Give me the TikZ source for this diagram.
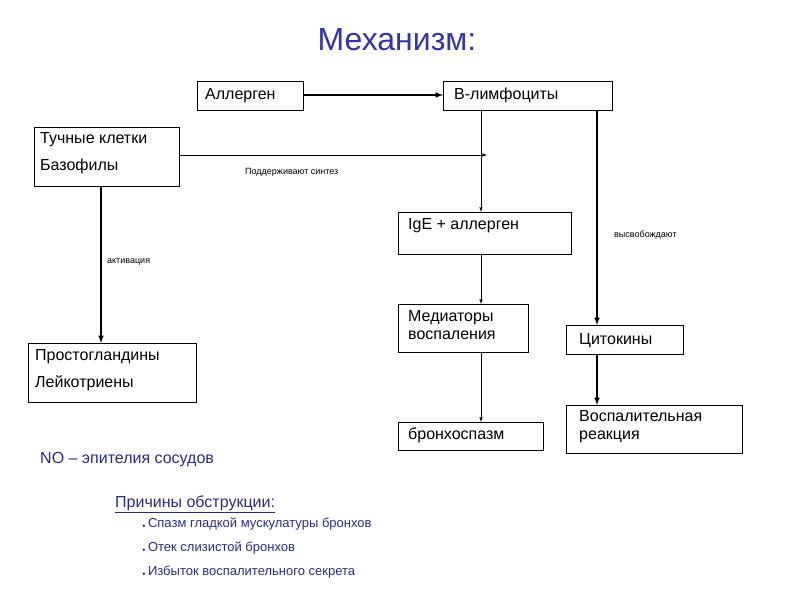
\documentclass[tikz,border=0pt]{standalone}
\usepackage{fontspec}
\setmainfont{Liberation Sans}
\usepackage{xcolor}
\definecolor{tblue}{HTML}{3333B0}
\definecolor{nblue}{HTML}{2A2A8A}
\begin{document}
\begin{tikzpicture}[x=1pt,y=-1pt,
  bx/.style={draw,line width=0.8pt,inner sep=0pt},
  txt/.style={anchor=north west,inner sep=0pt,font=\fontsize{16}{18}\selectfont,align=left},
  thin/.style={line width=0.6pt,-latex},
  thick/.style={line width=1.5pt,-latex},
  small/.style={inner sep=0pt,font=\fontsize{9}{11}\selectfont},
  bul/.style={anchor=west,inner sep=0pt,text=nblue,font=\fontsize{13}{15}\selectfont}]
\useasboundingbox (0,0) rectangle (794,595);
\node[font=\fontsize{32}{36}\selectfont,text=tblue] (title) at (397,40) {Механизм:};
% boxes
\draw[bx] (197,81) rectangle (303,110); \node[txt] (at) at (205,88) {Аллерген};
\draw[bx] (443,81) rectangle (612,110); \node[txt] (bt) at (454,88) {B-лимфоциты};
\draw[bx] (34,127) rectangle (179,186); \node[txt] (tt) at (40,132) {Тучные клетки\\[9pt]Базофилы};
\draw[bx] (398,212) rectangle (571,254); \node[txt] (it) at (408,218) {IgE + аллерген};
\draw[bx] (398,304) rectangle (528,352); \node[txt] (mt) at (408,310) {Медиаторы\\воспаления};
\draw[bx] (28,343) rectangle (196,402); \node[txt] (pt) at (35,349) {Простогландины\\[9pt]Лейкотриены};
\draw[bx] (566,325) rectangle (683,354); \node[txt] (ct) at (579,333) {Цитокины};
\draw[bx] (398,422) rectangle (543,450); \node[txt] (bst) at (408,428) {бронхоспазм};
\draw[bx] (566,405) rectangle (742,453); \node[txt] (vt) at (579,410) {Воспалительная\\реакция};
% connector anchors
\coordinate (a1) at (303,95); \coordinate (b1) at (443,95);
\coordinate (t1) at (179,155); \coordinate (t2) at (487,155);
\coordinate (bd) at (481,110); \coordinate (ig) at (481,212);
\coordinate (bd2) at (597,110); \coordinate (cy) at (597,325);
\coordinate (tb) at (101,186); \coordinate (pr) at (101,343);
\coordinate (ib) at (481,254); \coordinate (md) at (481,304);
\coordinate (mb) at (481,352); \coordinate (bs) at (481,422);
\coordinate (cb) at (597,354); \coordinate (vr) at (597,405);
\draw[thick] (a1) -- (b1);
\draw[thin] (t1) -- (t2);
\draw[thin] (bd) -- (ig);
\draw[thick] (bd2) -- (cy);
\draw[thick] (tb) -- (pr);
\draw[thin] (ib) -- (md);
\draw[thin] (mb) -- (bs);
\draw[thick] (cb) -- (vr);
\node[small,anchor=west] (l1) at (245,172) {Поддерживают синтез};
\node[small,anchor=west] (l2) at (614,235) {высвобождают};
\node[small,anchor=west] (l3) at (107,262) {активация};
\node[anchor=west,inner sep=0pt,text=nblue,font=\fontsize{16}{18}\selectfont] (no) at (40,460) {NO – эпителия сосудов};
\node[anchor=west,inner sep=0pt,text=nblue,font=\fontsize{16}{18}\selectfont] (pr2) at (115,504) {\underline{Причины обструкции:}};
\node[bul] (b1t) at (142,524) {{\tiny$\bullet$}\,Спазм гладкой мускулатуры бронхов};
\node[bul] (b2t) at (142,548) {{\tiny$\bullet$}\,Отек слизистой бронхов};
\node[bul] (b3t) at (142,572) {{\tiny$\bullet$}\,Избыток воспалительного секрета};
\end{tikzpicture}
\end{document}
